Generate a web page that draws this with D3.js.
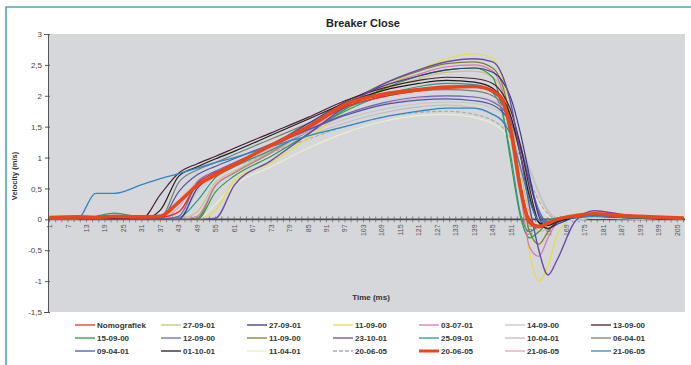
<!DOCTYPE html>
<html>
<head>
<meta charset="utf-8">
<script src="https://cdn.jsdelivr.net/npm/d3@7"></script>
<style>
  body { margin: 0; background: #fff; }
  svg { display: block; font-family: "Liberation Sans", Arial, sans-serif; }
</style>
</head>
<body>
<div id="chart"></div>
<script>
// sample times (ms) shared by every series
const timeMs = [1, 10, 16, 22, 31, 37, 43, 49, 55, 61, 73, 85, 97, 109, 121, 130, 139, 145, 148, 151, 154, 157, 160, 163, 166, 172, 178, 187, 196, 207];

const seriesNames = [
  'Nomografiek', '27-09-01', '27-09-01', '11-09-00', '03-07-01', '14-09-00', '13-09-00',
  '15-09-00', '12-09-00', '11-09-00', '23-10-01', '25-09-01', '10-04-01', '06-04-01',
  '09-04-01', '01-10-01', '11-04-01', '20-06-05', '20-06-05', '21-06-05', '21-06-05'
];

// velocity (m/s) per series at timeMs
const velocity = [
  [0.02, 0.03, 0.02, 0.03, 0.02, 0.03, 0.12, 0.58, 0.76, 0.9, 1.18, 1.48, 1.82, 1.98, 2.08, 2.13, 2.14, 2.06, 1.9, 1.35, 0.55, 0.0, -0.1, -0.06, 0.0, 0.05, 0.07, 0.04, 0.03, 0.01],
  [0.0, 0.01, 0.0, 0.01, 0.0, 0.0, 0.01, 0.12, 0.6, 0.78, 1.1, 1.45, 1.8, 2.08, 2.28, 2.38, 2.4, 2.3, 2.1, 1.6, 0.8, 0.1, -0.2, -0.15, -0.02, 0.06, 0.08, 0.05, 0.02, 0.0],
  [0.0, 0.0, 0.01, 0.0, 0.0, 0.0, 0.0, 0.5, 0.72, 0.88, 1.2, 1.55, 1.9, 2.15, 2.32, 2.42, 2.45, 2.38, 2.25, 1.95, 1.4, 0.7, 0.05, -0.15, -0.08, 0.04, 0.09, 0.05, 0.02, 0.01],
  [0.0, 0.0, 0.0, 0.0, 0.0, 0.0, 0.0, 0.0, 0.15, 0.62, 0.92, 1.32, 1.75, 2.12, 2.42, 2.6, 2.68, 2.6, 2.3, 1.5, 0.5, -0.55, -1.0, -0.75, -0.25, 0.05, 0.06, 0.03, 0.02, 0.0],
  [0.0, 0.01, 0.0, 0.0, 0.01, 0.0, 0.0, 0.05, 0.55, 0.75, 1.08, 1.45, 1.85, 2.15, 2.35, 2.47, 2.5, 2.4, 2.1, 1.4, 0.45, -0.45, -0.6, -0.3, -0.05, 0.05, 0.08, 0.04, 0.02, 0.0],
  [0.0, 0.0, 0.0, 0.0, 0.0, 0.0, 0.0, 0.45, 0.7, 0.85, 1.12, 1.4, 1.62, 1.78, 1.87, 1.9, 1.88, 1.8, 1.72, 1.55, 1.25, 0.85, 0.45, 0.15, 0.02, -0.02, 0.03, 0.02, 0.01, 0.0],
  [0.0, 0.01, 0.0, 0.02, 0.01, 0.4, 0.75, 0.9, 1.02, 1.15, 1.4, 1.65, 1.92, 2.12, 2.25, 2.3, 2.28, 2.2, 2.05, 1.75, 1.2, 0.5, -0.05, -0.15, -0.05, 0.03, 0.06, 0.04, 0.02, 0.0],
  [0.0, 0.0, 0.01, 0.0, 0.0, 0.0, 0.0, 0.0, 0.45, 0.7, 1.02, 1.38, 1.78, 2.1, 2.32, 2.42, 2.45, 2.3, 1.8, 0.9, 0.05, -0.3, -0.2, -0.05, 0.02, 0.05, 0.06, 0.03, 0.01, 0.0],
  [0.0, 0.0, 0.0, 0.01, 0.0, 0.0, 0.05, 0.6, 0.78, 0.92, 1.18, 1.45, 1.7, 1.88, 1.98, 2.0, 1.98, 1.9, 1.8, 1.6, 1.2, 0.65, 0.15, -0.05, -0.02, 0.04, 0.07, 0.04, 0.02, 0.0],
  [0.0, 0.0, 0.0, 0.0, 0.01, 0.0, 0.0, 0.02, 0.55, 0.75, 1.08, 1.46, 1.86, 2.18, 2.4, 2.52, 2.55, 2.45, 2.2, 1.55, 0.6, -0.2, -0.4, -0.2, -0.02, 0.05, 0.07, 0.04, 0.02, 0.0],
  [0.0, 0.0, 0.0, 0.0, 0.0, 0.0, 0.0, 0.0, 0.02, 0.55, 0.95, 1.38, 1.82, 2.18, 2.42, 2.55, 2.6, 2.55, 2.35, 1.85, 1.05, 0.2, -0.5, -0.9, -0.65, -0.02, 0.14, 0.08, 0.04, 0.02],
  [0.0, 0.01, 0.05, 0.1, 0.03, 0.02, 0.03, 0.3, 0.68, 0.85, 1.12, 1.42, 1.75, 2.0, 2.15, 2.2, 2.18, 2.05, 1.75, 1.0, 0.1, -0.2, -0.1, 0.0, 0.02, 0.04, 0.05, 0.03, 0.02, 0.0],
  [0.0, 0.0, 0.0, 0.0, 0.0, 0.0, 0.0, 0.52, 0.72, 0.86, 1.1, 1.35, 1.56, 1.72, 1.82, 1.85, 1.8, 1.7, 1.62, 1.45, 1.15, 0.8, 0.42, 0.12, 0.0, -0.02, 0.03, 0.02, 0.0, 0.0],
  [0.0, 0.0, 0.01, 0.0, 0.0, 0.02, 0.6, 0.8, 0.92, 1.05, 1.3, 1.55, 1.8, 1.98, 2.08, 2.1, 2.08, 2.0, 1.88, 1.6, 1.05, 0.4, -0.05, -0.1, -0.02, 0.04, 0.05, 0.03, 0.02, 0.0],
  [0.0, 0.0, 0.0, 0.0, 0.0, 0.0, 0.45, 0.72, 0.86, 0.98, 1.22, 1.45, 1.68, 1.85, 1.93, 1.95, 1.92, 1.85, 1.75, 1.55, 1.15, 0.6, 0.1, -0.08, -0.03, 0.03, 0.06, 0.04, 0.02, 0.0],
  [0.0, 0.0, 0.0, 0.0, 0.0, 0.15, 0.7, 0.85, 0.98, 1.1, 1.36, 1.62, 1.88, 2.08, 2.2, 2.25, 2.22, 2.12, 1.98, 1.65, 1.05, 0.35, -0.05, -0.1, -0.03, 0.03, 0.05, 0.03, 0.01, 0.0],
  [0.0, 0.0, 0.0, 0.0, 0.0, 0.0, 0.0, 0.0, 0.25, 0.55, 0.85, 1.15, 1.4, 1.58, 1.68, 1.7, 1.65, 1.55, 1.45, 1.25, 0.95, 0.6, 0.25, 0.05, -0.02, 0.0, 0.02, 0.01, 0.0, 0.0],
  [0.0, 0.0, 0.0, 0.0, 0.0, 0.0, 0.05, 0.55, 0.72, 0.85, 1.08, 1.3, 1.5, 1.65, 1.73, 1.75, 1.7, 1.6, 1.5, 1.3, 1.0, 0.65, 0.3, 0.08, 0.0, 0.02, 0.03, 0.02, 0.0, 0.0],
  [0.03, 0.04, 0.03, 0.05, 0.04, 0.05, 0.28, 0.55, 0.72, 0.88, 1.2, 1.5, 1.86, 2.02, 2.1, 2.14, 2.15, 2.08, 1.95, 1.4, 0.5, -0.05, -0.12, -0.06, 0.0, 0.06, 0.09, 0.06, 0.04, 0.02],
  [0.0, 0.0, 0.0, 0.0, 0.0, 0.0, 0.2, 0.62, 0.78, 0.9, 1.15, 1.42, 1.68, 1.86, 1.96, 2.0, 1.98, 1.92, 1.82, 1.55, 1.05, 0.45, 0.0, -0.08, -0.02, 0.04, 0.06, 0.04, 0.02, 0.0],
  [0.0, 0.0, 0.42, 0.42, 0.56, 0.66, 0.74, 0.83, 0.92, 1.0, 1.18, 1.35, 1.5, 1.65, 1.75, 1.8, 1.8, 1.7, 1.6, 1.35, 0.85, 0.3, -0.02, -0.05, 0.0, 0.03, 0.05, 0.03, 0.02, 0.0]
];

const yTicks = [3, 2.5, 2, 1.5, 1, 0.5, 0, -0.5, -1, -1.5];
const xTickLabels = d3.range(1, 206, 6);   // 1, 7, 13 ... 205
const nCategories = 207;

// styles
const seriesColors = [
  '#e0302a', '#c9c47a', '#3a3a8c', '#e6de3a', '#d478b4', '#c6c6c6', '#4a2030',
  '#2f9a45', '#6a68b8', '#7e7f2e', '#6a4aa8', '#2a9c84', '#bdbdbd', '#6f8474',
  '#4f56a8', '#1e1e1e', '#efeccc', '#a9a9a9', '#e8461e', '#e6a2c2', '#2f86c4'
];
const seriesWidths = [1.4, 1.2, 1.2, 1.2, 1.2, 1.1, 1.2, 1.2, 1.2, 1.2, 1.4, 1.2, 1.1, 1.2, 1.2, 1.2, 1.2, 1.1, 3.6, 1.2, 1.3];
const seriesDash = { 17: '4,2' };
const drawOrder = [16, 17, 12, 5, 1, 3, 9, 7, 4, 11, 19, 8, 14, 13, 2, 6, 15, 10, 20, 0, 18];

const W = 691, H = 365;
const plot = { left: 48, right: 685, top: 34, bottom: 312 };

const svg = d3.select('#chart').append('svg').attr('width', W).attr('height', H);

// teal frame (top + left visible)
svg.append('path')
  .attr('d', `M6,${H} V7 H${W}`)
  .attr('fill', 'none').attr('stroke', '#4fa6b2').attr('stroke-width', 1.6);

const x = d3.scaleLinear().domain([0.5, nCategories + 0.5]).range([plot.left, plot.right]);
const y = d3.scaleLinear().domain([-1.5, 3]).range([plot.bottom, plot.top]);

svg.append('rect')
  .attr('x', plot.left).attr('y', plot.top)
  .attr('width', plot.right - plot.left).attr('height', plot.bottom - plot.top)
  .attr('fill', '#d5d7db');

svg.append('text')
  .attr('x', 363).attr('y', 27).attr('text-anchor', 'middle')
  .attr('font-size', 11).attr('font-weight', 'bold').attr('fill', '#222')
  .text('Breaker Close');

// y axis
const yAxis = d3.axisLeft(y).tickValues(yTicks).tickSize(4)
  .tickFormat(d => String(d).replace('.', ','));
const gy = svg.append('g').attr('transform', `translate(${plot.left},0)`).call(yAxis);
gy.select('.domain').attr('stroke', '#555');
gy.selectAll('.tick line').attr('stroke', '#555').attr('x2', -3).attr('x1', 2);
gy.selectAll('.tick text').attr('font-size', 8).attr('fill', '#444').attr('x', -6)
  .attr('font-family', '"Liberation Sans", Arial, sans-serif');

svg.append('text')
  .attr('transform', 'translate(17,176) rotate(-90)').attr('text-anchor', 'middle')
  .attr('font-size', 7.5).attr('font-weight', 'bold').attr('fill', '#333')
  .text('Velocity (m/s)');

// x axis on the zero line
const y0 = y(0);
const gx = svg.append('g');
gx.selectAll('line.minor').data(d3.range(1, nCategories + 1, 2)).join('line')
  .attr('x1', d => x(d)).attr('x2', d => x(d))
  .attr('y1', y0 - 3).attr('y2', y0 + 3)
  .attr('stroke', '#666').attr('stroke-opacity', 0.7);
gx.append('line')
  .attr('x1', plot.left).attr('x2', plot.right).attr('y1', y0).attr('y2', y0)
  .attr('stroke', '#4a4a4a').attr('stroke-width', 1.8);
gx.selectAll('text').data(xTickLabels).join('text')
  .attr('transform', d => `translate(${x(d) + 2.5},${y0 + 5}) rotate(-90)`)
  .attr('text-anchor', 'end').attr('font-size', 7).attr('fill', '#555')
  .text(d => d);

svg.append('text')
  .attr('x', 371).attr('y', 300).attr('text-anchor', 'middle')
  .attr('font-size', 8).attr('font-weight', 'bold').attr('fill', '#333')
  .text('Time (ms)');

// series
const line = d3.line()
  .x((d, i) => x(timeMs[i]))
  .y(d => y(d))
  .curve(d3.curveMonotoneX);

const gLines = svg.append('g').attr('fill', 'none').attr('stroke-linejoin', 'round');
drawOrder.forEach(i => {
  gLines.append('path')
    .attr('d', line(velocity[i]))
    .attr('stroke', seriesColors[i])
    .attr('stroke-width', seriesWidths[i])
    .attr('stroke-dasharray', seriesDash[i] || null);
});

// legend: 7 columns x 3 rows
const legCols = 7, legX0 = 75, legDx = 86, legY0 = 328, legDy = 13;
const leg = svg.append('g');
seriesNames.forEach((name, i) => {
  const cx = legX0 + (i % legCols) * legDx;
  const cy = legY0 + Math.floor(i / legCols) * legDy;
  leg.append('line')
    .attr('x1', cx).attr('x2', cx + 20).attr('y1', cy - 3).attr('y2', cy - 3)
    .attr('stroke', seriesColors[i])
    .attr('stroke-width', i === 18 ? 3 : 1.3)
    .attr('stroke-dasharray', seriesDash[i] || null);
  leg.append('text')
    .attr('x', cx + 22).attr('y', cy)
    .attr('font-size', 8).attr('font-weight', 'bold').attr('fill', '#333')
    .text(name);
});
</script>
</body>
</html>
